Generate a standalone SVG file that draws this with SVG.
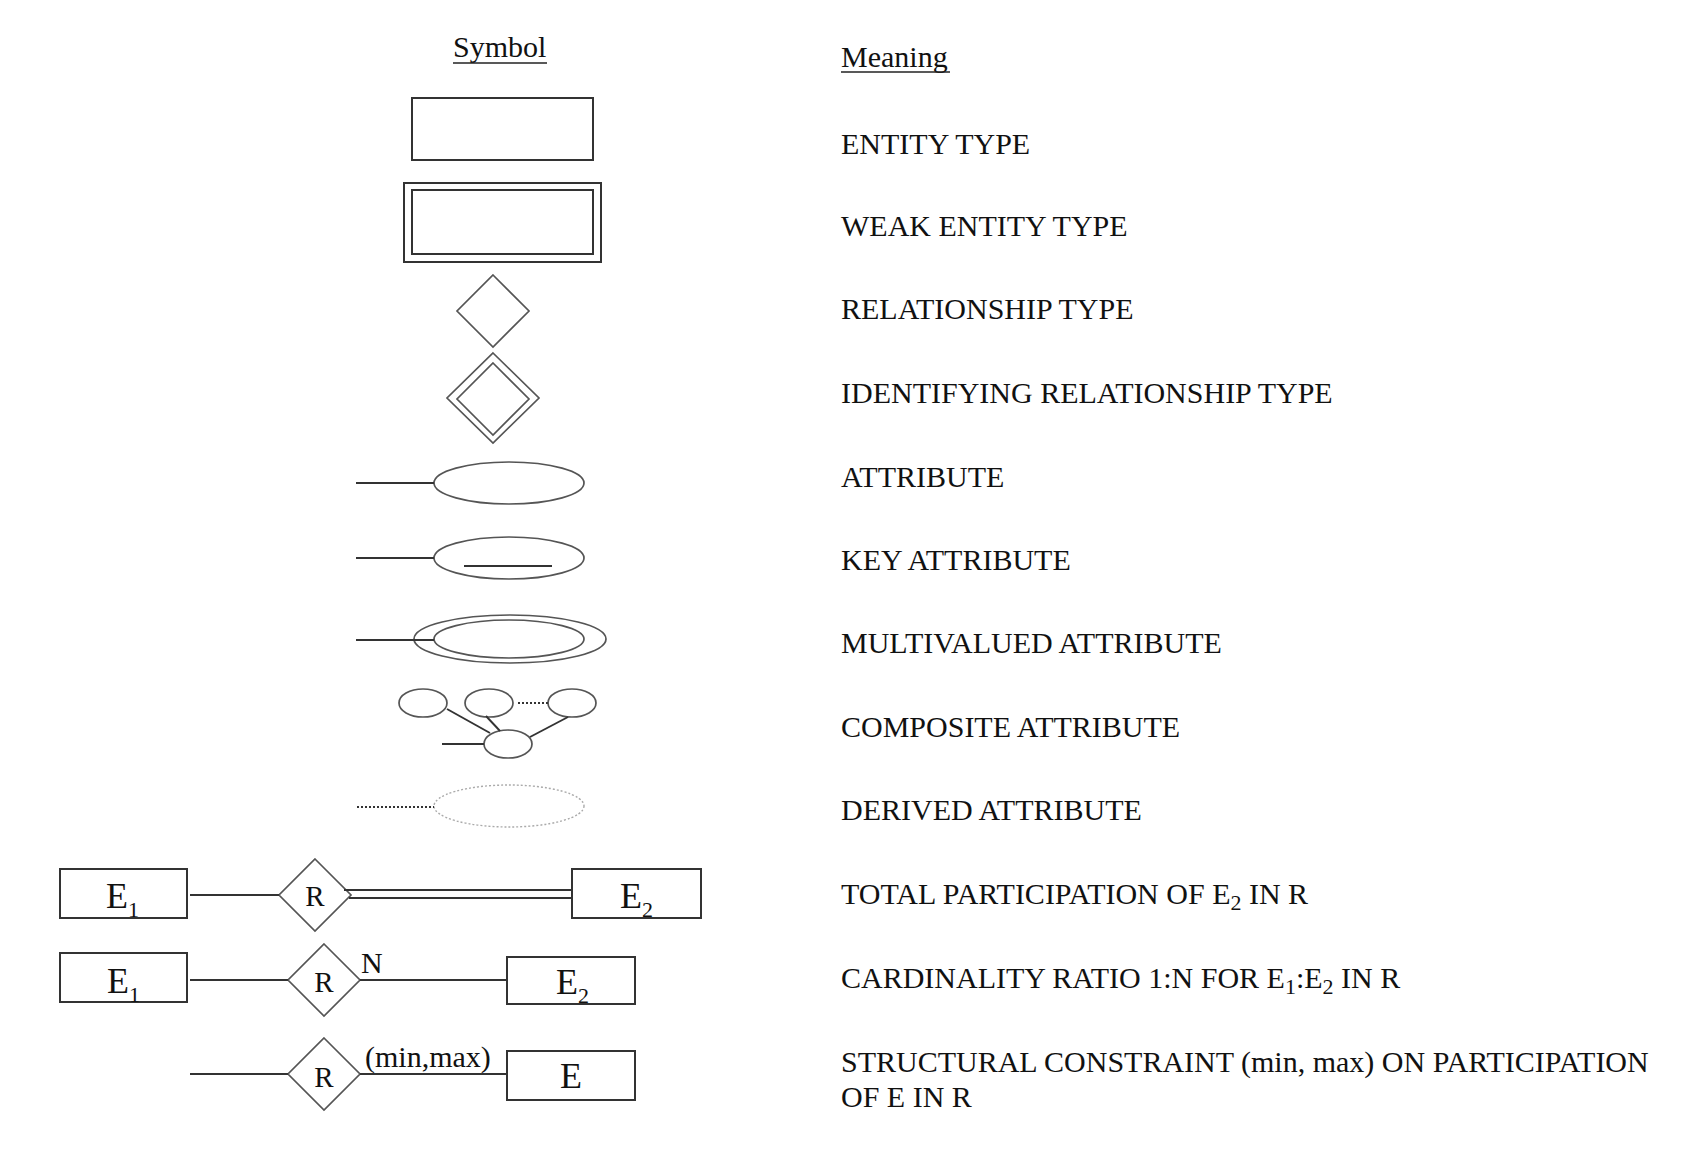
<svg xmlns="http://www.w3.org/2000/svg" width="1698" height="1174" viewBox="0 0 1698 1174">
<style>
.t{font-family:"Liberation Serif","Times New Roman",serif;font-size:30px;fill:#111}
.e{font-family:"Liberation Serif","Times New Roman",serif;font-size:36px;fill:#111}
.r{font-family:"Liberation Serif","Times New Roman",serif;font-size:29px;fill:#111}
.sub{font-size:22px}
.box{fill:none;stroke:#333;stroke-width:2}
.sh{fill:none;stroke:#555;stroke-width:1.7}
.ln{fill:none;stroke:#333;stroke-width:1.9}
.dot{fill:none;stroke:#333;stroke-width:1.8;stroke-dasharray:2 2}
.dotl{fill:none;stroke:#aaa;stroke-width:1.4;stroke-dasharray:2 2}
.ul{stroke:#222;stroke-width:1.5}
</style>
<rect width="1698" height="1174" fill="#fff"/>
<g id="headers">
<text class="t" x="453" y="57">Symbol</text>
<line class="ul" x1="453" y1="63" x2="547" y2="63"/>
<text class="t" x="841" y="67">Meaning</text>
<line class="ul" x1="841" y1="72" x2="950" y2="72"/>
</g>
<g id="entity-type"><rect class="box" x="412" y="98" width="181" height="62"/></g>
<g id="weak-entity-type"><rect class="box" x="404" y="183" width="197" height="79"/><rect class="box" x="412" y="190" width="181" height="64"/></g>
<g id="relationship-type"><polygon class="sh" points="493,275 529,311 493,347 457,311"/></g>
<g id="identifying-relationship-type"><polygon class="sh" points="493,353 539,398 493,443 447,398"/><polygon class="sh" points="493,363 529,399 493,435 457,399"/></g>
<g id="attribute"><ellipse class="sh" cx="509" cy="483" rx="75" ry="21"/></g>
<g id="key-attribute"><ellipse class="sh" cx="509" cy="558" rx="75" ry="21"/><line class="ln" x1="464" y1="566" x2="552" y2="566"/></g>
<g id="multivalued-attribute"><ellipse class="sh" cx="510" cy="639" rx="96" ry="24"/><ellipse class="sh" cx="509" cy="639" rx="75" ry="19"/></g>
<g id="composite-attribute">
<ellipse class="sh" cx="423" cy="703" rx="24" ry="14"/>
<ellipse class="sh" cx="489" cy="703" rx="24" ry="14"/>
<ellipse class="sh" cx="572" cy="703" rx="24" ry="14"/>
<ellipse class="sh" cx="508" cy="744" rx="24" ry="14"/>
</g>
<g id="derived-attribute"><ellipse class="dotl" cx="509" cy="806" rx="75" ry="21"/></g>
<g id="row-total">
<rect class="box" x="60" y="869" width="127" height="49"/>
<text class="e" x="106" y="908">E<tspan class="sub" dy="9">1</tspan></text>
<polygon class="sh" points="315,859 351,895 315,931 279,895"/>
<text class="r" x="315" y="906" text-anchor="middle">R</text>
<rect class="box" x="572" y="869" width="129" height="49"/>
<text class="e" x="620" y="908">E<tspan class="sub" dy="9">2</tspan></text>
</g>
<g id="row-cardinality">
<rect class="box" x="60" y="953" width="127" height="49"/>
<text class="e" x="107" y="993">E<tspan class="sub" dy="9">1</tspan></text>
<polygon class="sh" points="324,944 360,980 324,1016 288,980"/>
<text class="r" x="324" y="992" text-anchor="middle">R</text>
<text class="t" x="361" y="973">N</text>
<rect class="box" x="507" y="957" width="128" height="47"/>
<text class="e" x="556" y="994">E<tspan class="sub" dy="9">2</tspan></text>
</g>
<g id="row-structural">
<polygon class="sh" points="324,1038 360,1074 324,1110 288,1074"/>
<text class="r" x="324" y="1087" text-anchor="middle">R</text>
<text class="t" x="365" y="1067">(min,max)</text>
<rect class="box" x="507" y="1051" width="128" height="49"/>
<text class="e" x="571" y="1088" text-anchor="middle">E</text>
</g>
<g id="connectors">
<line class="ln" x1="356" y1="483" x2="434" y2="483"/>
<line class="ln" x1="356" y1="558" x2="434" y2="558"/>
<line class="ln" x1="356" y1="640" x2="434" y2="640"/>
<line class="ln" x1="442" y1="744" x2="484" y2="744"/>
<line class="ln" x1="447" y1="709" x2="490" y2="733"/>
<line class="ln" x1="486" y1="716" x2="500" y2="731"/>
<line class="ln" x1="568" y1="717" x2="530" y2="737"/>
<line class="dot" x1="518" y1="703" x2="548" y2="703"/>
<line class="dot" x1="357" y1="807" x2="434" y2="807"/>
<line class="ln" x1="190" y1="895" x2="279" y2="895"/>
<line class="ln" x1="344" y1="890" x2="572" y2="890"/>
<line class="ln" x1="349" y1="898" x2="572" y2="898"/>
<line class="ln" x1="190" y1="980" x2="288" y2="980"/>
<line class="ln" x1="360" y1="980" x2="507" y2="980"/>
<line class="ln" x1="190" y1="1074" x2="288" y2="1074"/>
<line class="ln" x1="360" y1="1074" x2="507" y2="1074"/>
</g>
<g id="meanings">
<text class="t" x="841" y="154">ENTITY TYPE</text>
<text class="t" x="841" y="236">WEAK ENTITY TYPE</text>
<text class="t" x="841" y="319">RELATIONSHIP TYPE</text>
<text class="t" x="841" y="403">IDENTIFYING RELATIONSHIP TYPE</text>
<text class="t" x="841" y="487">ATTRIBUTE</text>
<text class="t" x="841" y="570">KEY ATTRIBUTE</text>
<text class="t" x="841" y="653">MULTIVALUED ATTRIBUTE</text>
<text class="t" x="841" y="737">COMPOSITE ATTRIBUTE</text>
<text class="t" x="841" y="820">DERIVED ATTRIBUTE</text>
<text class="t" x="841" y="904">TOTAL PARTICIPATION OF E<tspan class="sub" dy="6">2</tspan><tspan dy="-6"> IN R</tspan></text>
<text class="t" x="841" y="988">CARDINALITY RATIO 1:N FOR E<tspan class="sub" dy="6">1</tspan><tspan dy="-6">:E</tspan><tspan class="sub" dy="6">2</tspan><tspan dy="-6"> IN R</tspan></text>
<text class="t" x="841" y="1072">STRUCTURAL CONSTRAINT (min, max) ON PARTICIPATION</text>
<text class="t" x="841" y="1107">OF E IN R</text>
</g>
</svg>
